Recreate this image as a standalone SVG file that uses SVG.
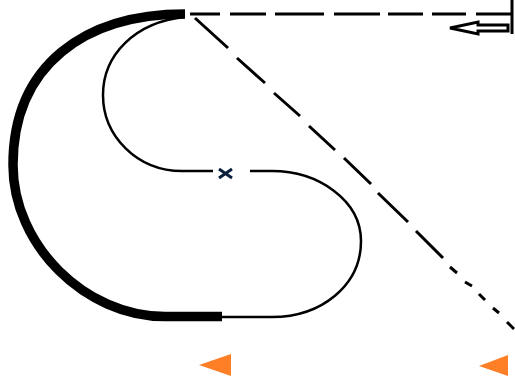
<svg xmlns="http://www.w3.org/2000/svg" width="515" height="389" viewBox="0 0 515 389">
<style>
.l{fill:none;stroke:#000;stroke-linecap:butt}
.o{fill:#ff7f27}
</style>
<rect width="515" height="389" fill="#fff"/>
<g id="connectors">
<path class="l" stroke-width="3" d="M190 14H220M230 14H266M275 14H324M334 14H380M388 14H423M432 14H466M476 14H512"/>
<path class="l" stroke-width="3" d="M195 18L228 48M237 58L265 83M274 93L300 116M309 126L335 150M344 158L371 184M378 193L408 222M416 231L443 258M450 267L457 273M465 282L472 286M479 294L485 300M493 308L499 313M507 322L514 329"/>
<path class="l" stroke-width="9.500" d="M185 14C85 14 13 65 13 165C13 245 85 316.500 165 316.500H222"/>
<path class="l" stroke-width="2.500" d="M185 17C135 22 103 55 103 95C103 136 137 171 182 171H213"/>
<path class="l" stroke-width="2.500" d="M250 171H272C318 171 361 200 361 241C361 285 322 317 272 317H222"/>
<path class="l" stroke-width="3" d="M512 0V34"/>
</g>
<g id="arrow"><path fill="#fff" stroke="#000" stroke-width="3" d="M450 28L478 22V25H508V31H478V34Z"/></g>
<g id="cross"><path fill="none" stroke="#0a1f3c" stroke-width="3" d="M219 169L232 178M232 169L219 178"/></g>
<g id="tri1"><path class="o" d="M199 365L231 354V376Z"/></g>
<g id="tri2"><path class="o" d="M479 366L508 355V376Z"/></g>
</svg>
